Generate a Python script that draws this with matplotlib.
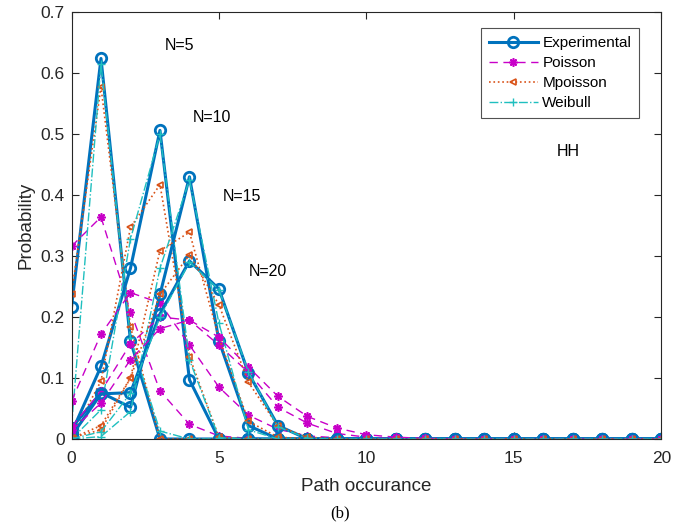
import matplotlib
matplotlib.use('Agg')
import matplotlib.pyplot as plt

plt.rcParams['font.family'] = ['Liberation Sans', 'DejaVu Sans']

# path occurance axis
x = list(range(21))

# Experimental data for N=5,10,15,20
exp_n5 = [0.216, 0.624, 0.161, 0, 0, 0, 0, 0, 0, 0, 0, 0, 0, 0, 0, 0, 0, 0, 0, 0, 0]
exp_n10 = [0.010, 0.119, 0.280, 0.506, 0.097, 0, 0, 0, 0, 0, 0, 0, 0, 0, 0, 0, 0, 0, 0, 0, 0]
exp_n15 = [0.018, 0.076, 0.052, 0.237, 0.430, 0.161, 0.022, 0, 0, 0, 0, 0, 0, 0, 0, 0, 0, 0, 0, 0, 0]
exp_n20 = [0.005, 0.074, 0.076, 0.205, 0.292, 0.246, 0.108, 0.022, 0, 0, 0, 0, 0, 0, 0, 0, 0, 0, 0, 0, 0]

# Poisson fit
poi_n5 = [0.316, 0.364, 0.209, 0.079, 0.024, 0.005, 0.001, 0, 0, 0, 0, 0, 0, 0, 0, 0, 0, 0, 0, 0, 0]
poi_n10 = [0.062, 0.172, 0.240, 0.223, 0.154, 0.085, 0.039, 0.016, 0.005, 0.002, 0, 0, 0, 0, 0, 0, 0, 0, 0, 0, 0]
poi_n15 = [0.020, 0.078, 0.156, 0.200, 0.195, 0.154, 0.109, 0.052, 0.026, 0.009, 0.003, 0.001, 0, 0, 0, 0, 0, 0, 0, 0, 0]
poi_n20 = [0.014, 0.059, 0.130, 0.181, 0.195, 0.167, 0.118, 0.070, 0.037, 0.018, 0.007, 0.003, 0.001, 0, 0, 0, 0, 0, 0, 0, 0]

# Modified Poisson fit
mpo_n5 = [0.238, 0.577, 0.184, 0, 0, 0, 0, 0, 0, 0, 0, 0, 0, 0, 0, 0, 0, 0, 0, 0, 0]
mpo_n10 = [0.004, 0.095, 0.347, 0.417, 0.135, 0.003, 0, 0, 0, 0, 0, 0, 0, 0, 0, 0, 0, 0, 0, 0, 0]
mpo_n15 = [0.002, 0.015, 0.100, 0.309, 0.339, 0.166, 0.029, 0.003, 0, 0, 0, 0, 0, 0, 0, 0, 0, 0, 0, 0, 0]
mpo_n20 = [0.001, 0.022, 0.100, 0.237, 0.302, 0.220, 0.093, 0.021, 0.003, 0, 0, 0, 0, 0, 0, 0, 0, 0, 0, 0, 0]

# Weibull fit
wei_n5 = [0.020, 0.615, 0.165, 0.013, 0, 0, 0, 0, 0, 0, 0, 0, 0, 0, 0, 0, 0, 0, 0, 0, 0]
wei_n10 = [0.0, 0.048, 0.328, 0.500, 0.130, 0.002, 0, 0, 0, 0, 0, 0, 0, 0, 0, 0, 0, 0, 0, 0, 0]
wei_n15 = [0.0, 0.004, 0.045, 0.280, 0.425, 0.190, 0.015, 0, 0, 0, 0, 0, 0, 0, 0, 0, 0, 0, 0, 0, 0]
wei_n20 = [0.0, 0.012, 0.075, 0.200, 0.290, 0.245, 0.110, 0.020, 0.001, 0, 0, 0, 0, 0, 0, 0, 0, 0, 0, 0, 0]

exp_sets = [exp_n5, exp_n10, exp_n15, exp_n20]
poi_sets = [poi_n5, poi_n10, poi_n15, poi_n20]
mpo_sets = [mpo_n5, mpo_n10, mpo_n15, mpo_n20]
wei_sets = [wei_n5, wei_n10, wei_n15, wei_n20]

fig = plt.figure(figsize=(6.81, 5.27), dpi=100)
ax = fig.add_axes([0.105, 0.167, 0.866, 0.810])

blue = '#0072BD'
mag = '#C800C8'
orange = '#D95319'
cyan = '#1FBFBF'

for i in range(4):
    lab = i == 0
    ax.plot(x, exp_sets[i], '-o', color=blue, lw=2.2, ms=7.5, mew=2, mfc='none',
            label='Experimental' if lab else None)
    ax.plot(x, poi_sets[i], '--', marker=(8, 2, 0), color=mag, lw=1.0, ms=6, mew=1.2,
            dashes=(6, 4), label='Poisson' if lab else None)
    ax.plot(x, mpo_sets[i], ':<', color=orange, lw=1.2, ms=5, mfc='none', mew=1.2,
            label='Mpoisson' if lab else None)
    ax.plot(x, wei_sets[i], '-.+', color=cyan, lw=1.0, ms=6,
            label='Weibull' if lab else None)

ax.set_xlim(0, 20)
ax.set_ylim(0, 0.7)
ax.set_xticks([0, 5, 10, 15, 20])
ax.set_yticks([0, 0.1, 0.2, 0.3, 0.4, 0.5, 0.6, 0.7])
ax.set_yticklabels(['0', '0.1', '0.2', '0.3', '0.4', '0.5', '0.6', '0.7'])
ax.tick_params(direction='in', top=True, right=True, labelsize=12.5, colors='#262626',
               length=5)
ax.tick_params(axis='x', pad=9)
ax.tick_params(axis='y', pad=5)
for s in ax.spines.values():
    s.set_color('#262626')
    s.set_linewidth(0.8)

ax.set_xlabel('Path occurance', fontsize=13.5, color='#262626', labelpad=8)
ax.set_ylabel('Probability', fontsize=13.5, color='#262626', labelpad=4)

ax.text(3.15, 0.646, 'N=5', fontsize=11.5, va='center')
ax.text(4.12, 0.528, 'N=10', fontsize=11.5, va='center')
ax.text(5.13, 0.397, 'N=15', fontsize=11.5, va='center')
ax.text(6.0, 0.274, 'N=20', fontsize=11.5, va='center')
ax.text(16.46, 0.472, 'HH', fontsize=11.5, va='center')

leg = ax.legend(loc='upper right', bbox_to_anchor=(0.975, 0.98), fontsize=11,
                fancybox=False, edgecolor='#262626', handlelength=3.2,
                borderpad=0.5, labelspacing=0.4, handletextpad=0.3)
leg.get_frame().set_linewidth(0.8)

fig.text(0.5, 0.018, '(b)', fontsize=12, ha='center', family='Liberation Serif')

fig.savefig('out.png', dpi=100)
